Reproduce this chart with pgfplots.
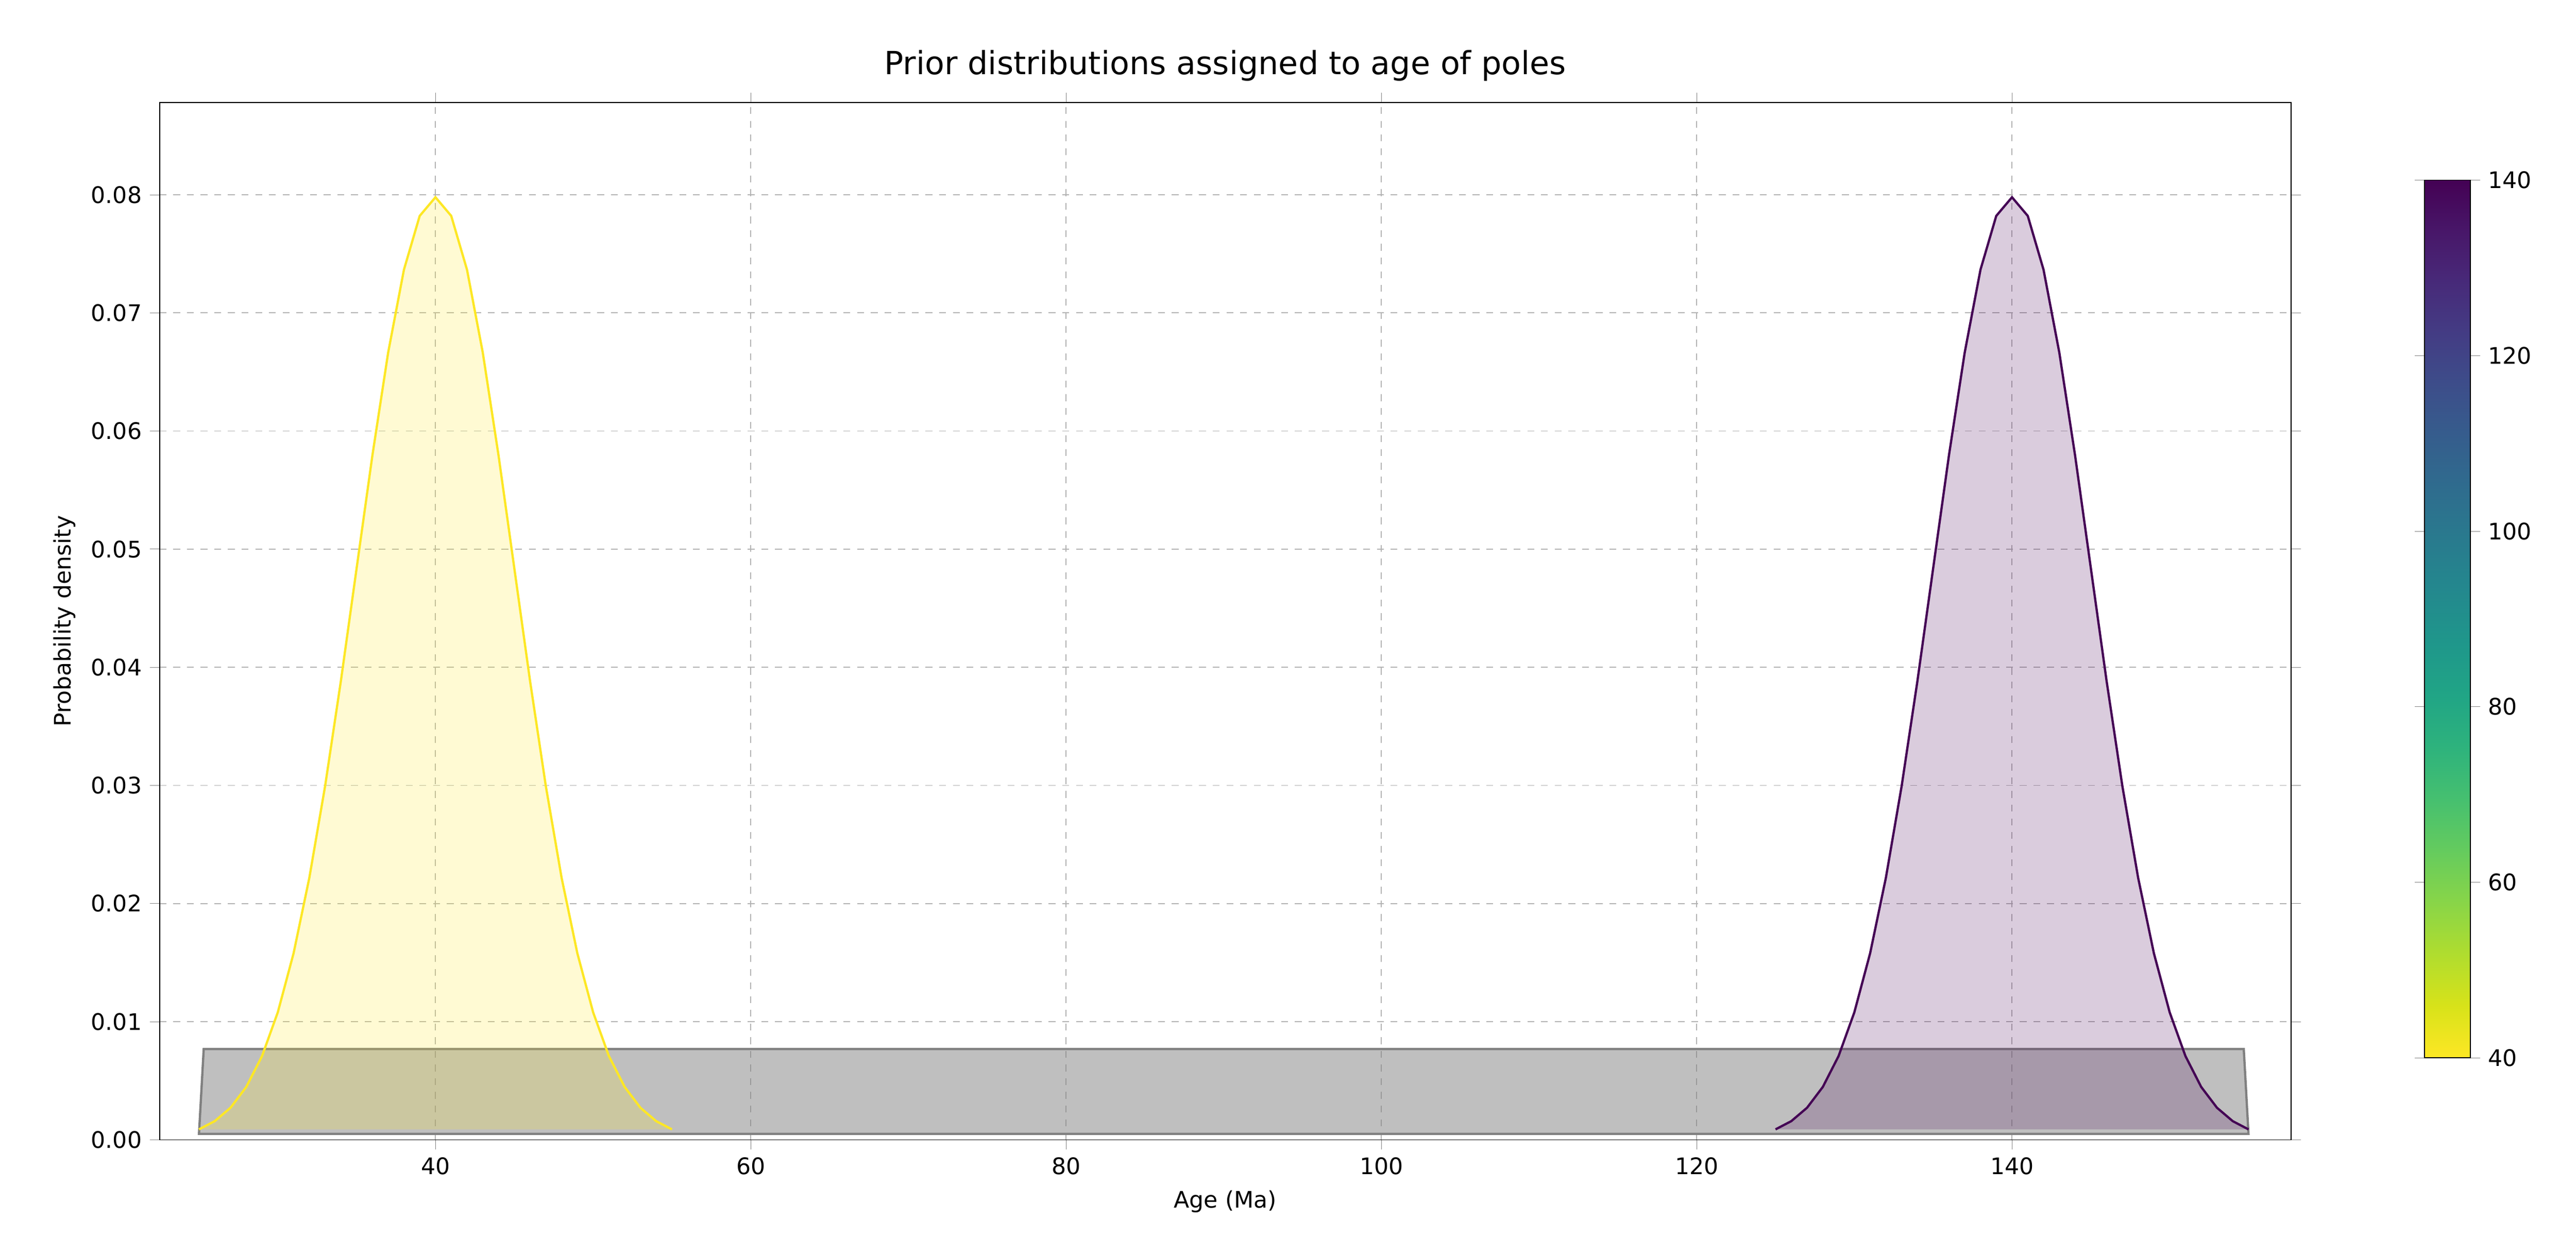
\documentclass[border=0pt]{standalone}
\usepackage{pgfplots}
\pgfplotsset{compat=1.18}
\usepackage{fontspec}
\setmainfont{DejaVu Sans}
\definecolor{vy}{HTML}{FDE725}
\definecolor{vp}{HTML}{440154}
\begin{document}
\begin{tikzpicture}
\path (-70pt,-50pt) rectangle (1060pt,500pt);
\begin{axis}[name=main,at={(0,0)},anchor=south west,
 width=935pt,height=455pt,scale only axis,
 xmin=22.5,xmax=157.7,ymin=0,ymax=0.0878,
 xtick={40,60,80,100,120,140},
 ytick={0,0.01,0.02,0.03,0.04,0.05,0.06,0.07,0.08},
 yticklabel style={/pgf/number format/.cd,fixed,precision=2,zerofill},
 scaled y ticks=false,
 /pgf/number format/assume math mode=true,
 tick label style={font=\fontsize{10}{12}\selectfont},
 grid=major,major grid style={gray!60,dashed},
 tick align=outside,
 title={Prior distributions assigned to age of poles},
 title style={font=\fontsize{14}{16}\selectfont},
 xlabel={Age (Ma)},ylabel={Probability density},
 label style={font=\fontsize{10}{12}\selectfont},
 axis line style={black}]
\addplot[draw=gray,fill=gray,fill opacity=0.5,line width=1pt] coordinates {
(25,0.0005)(25.3,0.00769)(154.7,0.00769)(155,0.0005)} -- cycle;
\addplot[color=vy,line width=1pt,fill=vy,fill opacity=0.2] coordinates {
(25,0.000886)(26,0.001583)(27,0.002717)(28,0.004479)(29,0.007095)(30,0.010798)
(31,0.015790)(32,0.022184)(33,0.029945)(34,0.038837)(35,0.048394)(36,0.057938)
(37,0.066645)(38,0.073654)(39,0.078208)(40,0.079788)(41,0.078208)(42,0.073654)
(43,0.066645)(44,0.057938)(45,0.048394)(46,0.038837)(47,0.029945)(48,0.022184)
(49,0.015790)(50,0.010798)(51,0.007095)(52,0.004479)(53,0.002717)(54,0.001583)(55,0.000886)};
\addplot[color=vp,line width=1pt,fill=vp,fill opacity=0.2] coordinates {
(125,0.000886)(126,0.001583)(127,0.002717)(128,0.004479)(129,0.007095)(130,0.010798)
(131,0.015790)(132,0.022184)(133,0.029945)(134,0.038837)(135,0.048394)(136,0.057938)
(137,0.066645)(138,0.073654)(139,0.078208)(140,0.079788)(141,0.078208)(142,0.073654)
(143,0.066645)(144,0.057938)(145,0.048394)(146,0.038837)(147,0.029945)(148,0.022184)
(149,0.015790)(150,0.010798)(151,0.007095)(152,0.004479)(153,0.002717)(154,0.001583)(155,0.000886)};
\end{axis}
\begin{axis}[at={(993.6pt,36pt)},anchor=south west,
 width=20pt,height=385pt,scale only axis,
 xmin=0,xmax=1,ymin=40,ymax=140,
 xtick=\empty,ytick={40,60,80,100,120,140},
 yticklabel pos=right,tick align=outside,
 /pgf/number format/assume math mode=true,
 tick label style={font=\fontsize{10}{12}\selectfont},
 colormap name=viridis,axis on top]
\addplot[surf,shader=interp,point meta=-y,mesh/rows=6] coordinates {
(0,40)(1,40)
(0,60)(1,60)
(0,80)(1,80)
(0,100)(1,100)
(0,120)(1,120)
(0,140)(1,140)};
\node[font=\fontsize{12}{14}\selectfont,anchor=north] at (rel axis cs:0.5,-0.01) {Age (Ma)};
\end{axis}
\end{tikzpicture}
\end{document}
